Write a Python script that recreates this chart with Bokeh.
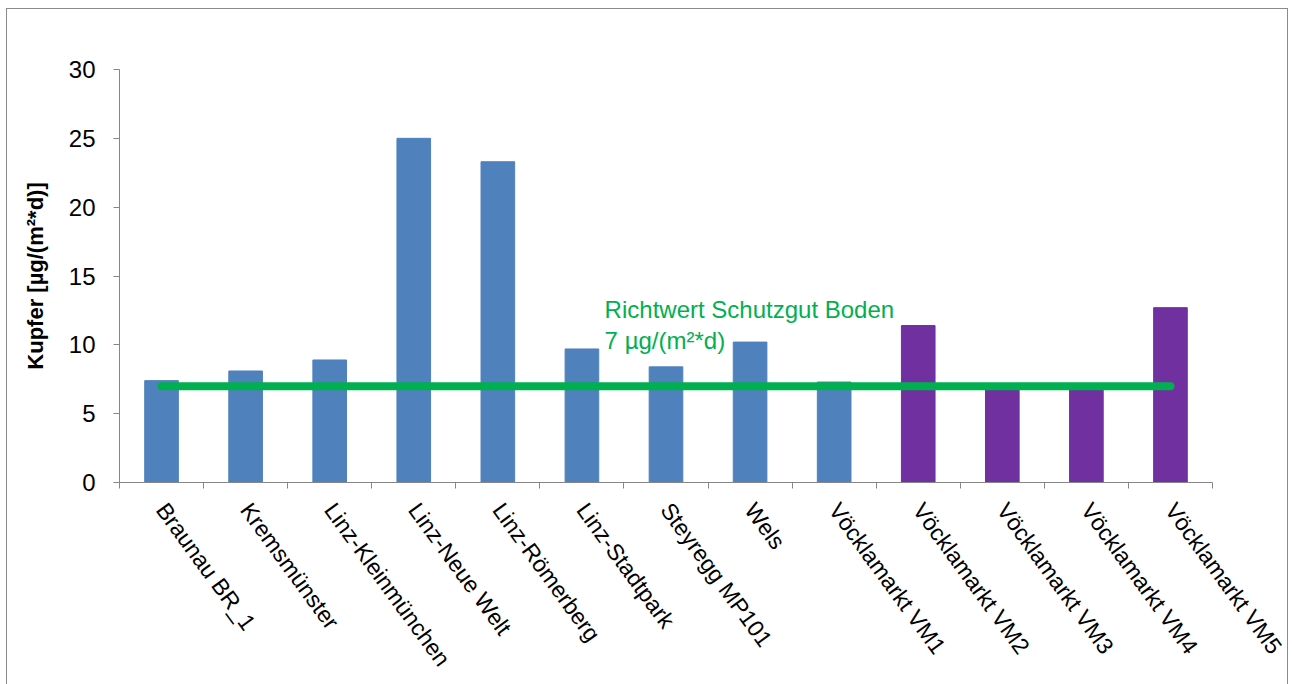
from bokeh.plotting import figure
from bokeh.models import (ColumnDataSource, Range1d, LinearAxis, FixedTicker, CustomJSTickFormatter)
from bokeh.core.properties import value
from bokeh.embed import file_html
from bokeh.resources import INLINE

stations = ["Braunau BR_1", "Kremsmünster", "Linz-Kleinmünchen", "Linz-Neue Welt",
            "Linz-Römerberg", "Linz-Stadtpark", "Steyregg MP101", "Wels",
            "Vöcklamarkt VM1", "Vöcklamarkt VM2", "Vöcklamarkt VM3", "Vöcklamarkt VM4",
            "Vöcklamarkt VM5"]
copper = [7.4, 8.1, 8.9, 25.0, 23.3, 9.7, 8.4, 10.2, 7.3, 11.4, 6.9, 6.9, 12.7]
groups = ["a"] * 9 + ["b"] * 4
guide_value = 7
guide_label = "Richtwert Schutzgut Boden\n7 µg/(m²*d)"
y_ticks = [0, 5, 10, 15, 20, 25, 30]

color_map = {"a": "#4F81BD", "b": "#7030A0"}
FONT = "Liberation Sans"

n = len(stations)
centers = [i + 0.5 for i in range(n)]
src = ColumnDataSource(dict(x=centers, top=copper, color=[color_map[g] for g in groups]))

p = figure(x_range=Range1d(0, n), y_range=Range1d(0, 30),
           width=1282, height=676, output_backend="svg", toolbar_location=None,
           x_axis_location=None, y_axis_location="left",
           min_border_left=112, min_border_right=77, min_border_top=60, min_border_bottom=203)
p.styles = {"border-top": "1px solid #8a8a8a", "border-left": "1px solid #8a8a8a",
            "border-right": "1px solid #8a8a8a", "margin-left": "6px", "margin-top": "8px"}

p.vbar(x="x", top="top", width=0.4, color="color", source=src)

# guide line from first to last category centre
p.line(x=[centers[0], centers[-1]], y=[guide_value, guide_value], line_color="#00B050",
       line_width=8, line_cap="round")
p.text(x=[5.77], y=[13.55], text=[guide_label], text_color="#00B050",
       text_font=value(FONT), text_font_size="24px", text_baseline="top",
       text_align="left", text_line_height=1.15)

p.grid.visible = False
p.outline_line_color = None
p.background_fill_color = "white"
p.border_fill_color = "white"

ya = p.yaxis[0]
ya.ticker = FixedTicker(ticks=y_ticks)
ya.axis_line_color = "#868686"
ya.major_tick_line_color = "#868686"
ya.major_tick_in = 0
ya.major_tick_out = 6
ya.minor_tick_line_color = None
ya.major_label_text_font = FONT
ya.major_label_text_font_size = "24px"
ya.major_label_text_color = "black"
ya.major_label_standoff = 18
ya.axis_label = "Kupfer [µg/(m²*d)]"
ya.axis_label_text_font = FONT
ya.axis_label_text_font_style = "bold"
ya.axis_label_text_font_size = "22px"
ya.axis_label_text_color = "black"
ya.axis_label_standoff = 18

tick_axis = LinearAxis(ticker=FixedTicker(ticks=list(range(n + 1))),
                       formatter=CustomJSTickFormatter(code="return ''"))
tick_axis.axis_line_color = "#868686"
tick_axis.major_tick_line_color = "#868686"
tick_axis.major_tick_in = 0
tick_axis.major_tick_out = 6
tick_axis.minor_tick_line_color = None
tick_axis.major_label_text_font_size = "1px"
tick_axis.major_label_standoff = 0
p.add_layout(tick_axis, "below")

label_axis = LinearAxis(ticker=FixedTicker(ticks=centers),
                        major_label_overrides={c: s for c, s in zip(centers, stations)})
label_axis.axis_line_color = None
label_axis.major_tick_line_color = None
label_axis.minor_tick_line_color = None
label_axis.major_tick_out = 0
label_axis.major_tick_in = 0
label_axis.major_label_orientation = -0.94
label_axis.major_label_text_font = FONT
label_axis.major_label_text_font_size = "23px"
label_axis.major_label_text_color = "black"
label_axis.major_label_standoff = 17
p.add_layout(label_axis, "below")

open("out.html", "w").write(file_html(p, INLINE))
